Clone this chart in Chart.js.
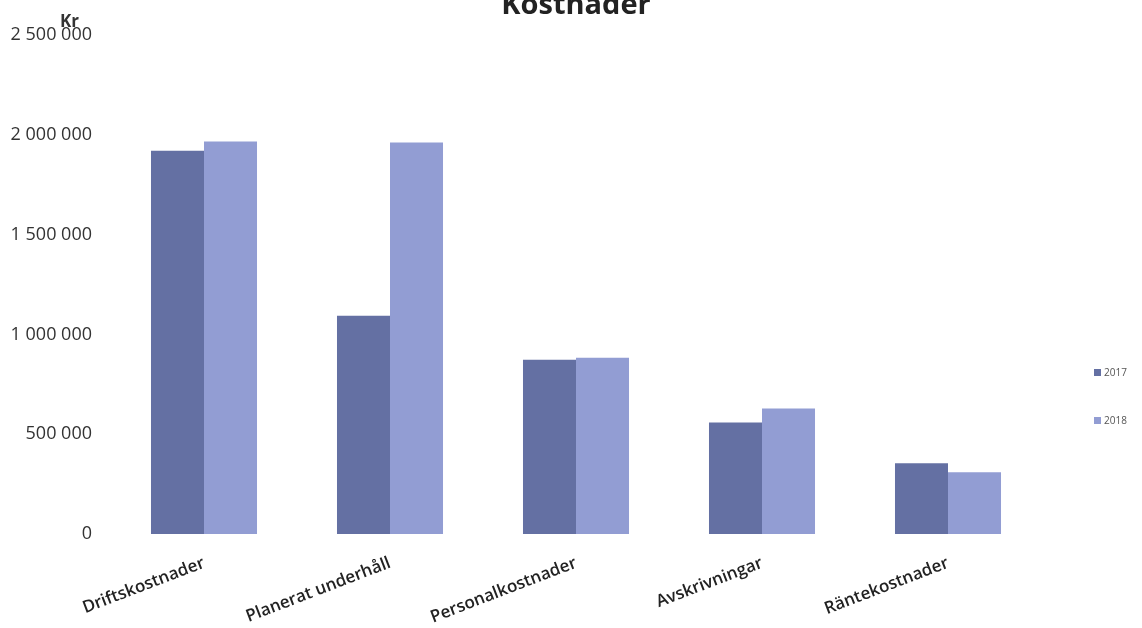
<!DOCTYPE html>
<html>
<head>
<meta charset="utf-8">
<script src="https://cdn.jsdelivr.net/npm/chart.js@4.4.1/dist/chart.umd.min.js"></script>
<style>
  html, body { margin: 0; padding: 0; background: #ffffff; }
  #wrap { width: 1142px; height: 628px; position: relative; }
</style>
</head>
<body>
<div id="wrap"><canvas id="chart"></canvas></div>
<script>
// Cost categories and yearly amounts (kr)
const categories = ['Driftskostnader', 'Planerat underhåll', 'Personalkostnader', 'Avskrivningar', 'Räntekostnader'];
const costs2017 = [1920000, 1093000, 873000, 559000, 354000];
const costs2018 = [1966000, 1962000, 883000, 629000, 309000];
const seriesLabels = ['2017', '2018'];
const yTickValues = [0, 500000, 1000000, 1500000, 2000000, 2500000];

const colors = ['#6470a3', '#929dd3'];
const FONT = '"Open Sans", "Noto Sans", sans-serif';

// Swedish-style thousands grouping with spaces
function formatKr(v) {
  return String(v).replace(/\B(?=(\d{3})+(?!\d))/g, ' ');
}

// Title, unit label and legend drawn at fixed spots around the plot
const decorations = {
  id: 'decorations',
  afterDraw(chart) {
    const ctx = chart.ctx;
    ctx.save();
    ctx.fillStyle = '#222';
    ctx.textAlign = 'center';
    ctx.textBaseline = 'alphabetic';
    ctx.font = 'bold 29px ' + FONT;
    ctx.fillText('Kostnader', 576, 14);

    ctx.font = 'bold 17px ' + FONT;
    ctx.fillStyle = '#333';
    ctx.textAlign = 'left';
    ctx.fillText('Kr', 60, 27);

    // legend
    ctx.font = '10px ' + FONT;
    ctx.textBaseline = 'middle';
    chart.data.datasets.forEach((ds, i) => {
      const y = 372 + i * 48;
      ctx.fillStyle = ds.backgroundColor;
      ctx.fillRect(1094, y - 3, 7, 7);
      ctx.fillStyle = '#555';
      ctx.fillText(ds.label, 1104, y + 1);
    });
    ctx.restore();
  }
};

new Chart(document.getElementById('chart'), {
  type: 'bar',
  data: {
    labels: categories,
    datasets: [
      { label: seriesLabels[0], data: costs2017, backgroundColor: colors[0] },
      { label: seriesLabels[1], data: costs2018, backgroundColor: colors[1] }
    ]
  },
  options: {
    responsive: true,
    maintainAspectRatio: false,
    animation: false,
    layout: { padding: { left: 0, right: 101, top: 35, bottom: 0 } },
    plugins: {
      legend: { display: false },
      title: { display: false },
      tooltip: { enabled: false }
    },
    datasets: {
      bar: { barPercentage: 1.0, categoryPercentage: 0.57 }
    },
    scales: {
      x: {
        grid: { display: false, drawTicks: false },
        border: { display: false },
        ticks: {
          color: '#222',
          font: { family: FONT, size: 17, weight: '600' },
          minRotation: 21,
          maxRotation: 21,
          padding: 19,
          autoSkip: false
        },
        afterFit(scale) { scale.height = 94; }
      },
      y: {
        min: 0,
        max: 2500000,
        grid: { display: false, drawTicks: false },
        border: { display: false },
        afterBuildTicks(scale) {
          scale.ticks = yTickValues.map(v => ({ value: v }));
        },
        ticks: {
          color: '#333',
          font: { family: FONT, size: 18 },
          padding: 19,
          callback: (v) => formatKr(v)
        },
        afterFit(scale) { scale.width = 111; }
      }
    }
  },
  plugins: [decorations]
});
</script>
</body>
</html>
